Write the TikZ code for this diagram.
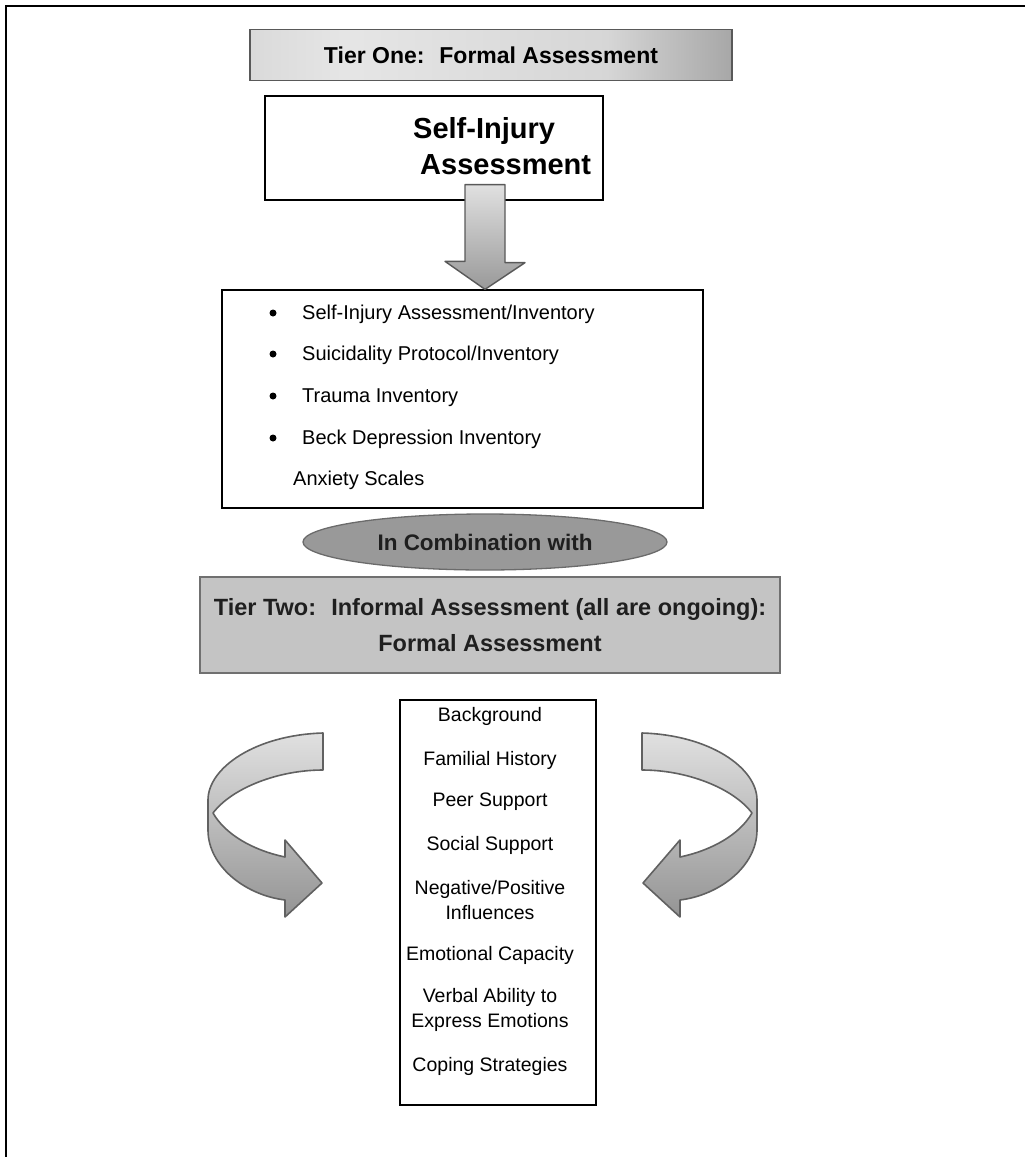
\documentclass[tikz,border=0pt]{standalone}
\usepackage{fontspec}
\setmainfont{Liberation Sans}
\usepackage{xcolor}
\usetikzlibrary{calc,positioning,shapes.geometric}

\pgfdeclarehorizontalshading{bannershade}{100bp}{color(0bp)=(black!26); color(35bp)=(black!10); color(62bp)=(black!16); color(86bp)=(black!50); color(100bp)=(black!80)}

% one twisted ribbon arrow, drawn for the left side
\newcommand{\ribbonarrow}{%
  \shadedraw[ribbon] (323,733) .. controls (255,735) and (208,768) .. (208,800)
    -- (208,830) .. controls (208,866) and (245,895) .. (285,900)
    -- (285,917) -- (322,883) -- (285,840) -- (285,857)
    .. controls (252,850) and (225,834) .. (213,813)
    .. controls (232,788) and (278,770) .. (323,770) -- cycle;
}

\begin{document}
\begin{tikzpicture}[x=1pt,y=-1pt,
  box/.style={draw,line width=1.3pt,inner sep=0pt},
  item/.style={anchor=base west,inner sep=0pt,font=\fontsize{20}{24}\selectfont},
  factor/.style={align=center,inner sep=0pt,font=\fontsize{19.5}{25}\selectfont},
  ribbon/.style={top color=black!12,bottom color=black!42,draw=black!62,line width=1.6pt,line join=round}]
	\useasboundingbox (0,0) rectangle (1025,1157);
	\draw[line width=2pt] (6,1157) -- (6,6) -- (1025,6);
	% tier one
	\node[draw=black!65,line width=1.6pt,shading=bannershade,minimum width=482pt,minimum height=51pt,inner sep=0pt,
	      font=\fontsize{23}{28}\selectfont\bfseries] (tierone) at (491,55) {Tier One:~ Formal Assessment};
	\node[box,minimum width=338pt,minimum height=104pt] (sia) at (434,148) {};
	\node[align=left,anchor=west,inner sep=0pt,font=\fontsize{29}{36}\selectfont\bfseries] (siatext) at (413,146) {Self-Injury\\\hspace*{7pt}Assessment};
	\node[box,minimum width=481pt,minimum height=218pt] (inv) at (462.5,399) {};
	% block arrow down
	\coordinate (ax) at (485,0);
	\shadedraw[top color=black!12,bottom color=black!40,draw=black!65,line width=1.4pt,line join=round]
	  ($(ax |- sia.south)+(-20,-16)$) -- ++(40,0) -- ++(0,78) -- ++(20,0) -- (ax |- inv.north) -- ++(-40,-28) -- ++(20,0) -- cycle;
	% inventories
	\foreach \y/\txt in {312/{Self-Injury Assessment/Inventory},353/{Suicidality Protocol/Inventory},395/{Trauma Inventory},437/{Beck Depression Inventory}}{
		\fill (273,\y+1) circle (3.5);
		\node[item] at (302,\y+7) {\txt};
	}
	\node[item] (anx) at (293,485) {Anxiety Scales};
	% in combination
	\node[ellipse,draw=black!58,line width=1.3pt,fill=black!40,minimum width=364pt,minimum height=56pt,inner sep=0pt,
	      font=\fontsize{22.5}{26}\selectfont\bfseries,text=black!88] (comb) at (485,542) {In Combination with};
	% tier two
	\node[draw=black!56,line width=2.5pt,fill=black!23,minimum width=580pt,minimum height=96pt,inner sep=0pt,align=center,
	      font=\fontsize{23.5}{36}\selectfont\bfseries,text=black!88] (tiertwo) at (490,625)
	      {Tier Two:~ Informal Assessment (all are ongoing):\\Formal Assessment};
	% informal factors
	\node[box,minimum width=196pt,minimum height=405pt] (fac) at (498,902.5) {};
	\node[factor] (f1) at (490,716) {Background};
	\node[factor] (f2) at (490,760) {Familial History};
	\node[factor] (f3) at (490,802) {Peer Support};
	\node[factor] (f4) at (490,845) {Social Support};
	\node[factor] (f5) at (490,900) {Negative/Positive\\Influences};
	\node[factor] (f6) at (490,955) {Emotional Capacity};
	\node[factor] (f7) at (490,1010) {Verbal Ability to\\Express Emotions};
	\node[factor] (f8) at (490,1066) {Coping Strategies};
	% ribbon arrows either side
	\ribbonarrow
	\begin{scope}[xshift=965,xscale=-1]
		\ribbonarrow
	\end{scope}
\end{tikzpicture}
\end{document}
